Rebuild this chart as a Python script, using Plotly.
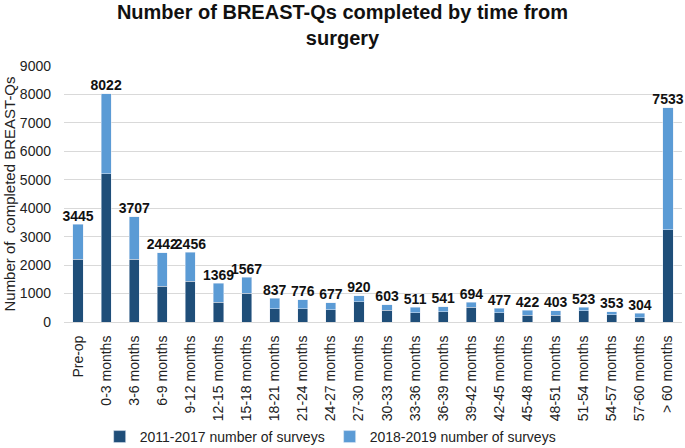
import plotly.graph_objects as go

categories = ["Pre-op", "0-3 months", "3-6 months", "6-9 months", "9-12 months",
              "12-15 months", "15-18 months", "18-21 months", "21-24 months",
              "24-27 months", "27-30 months", "30-33 months", "33-36 months",
              "36-39 months", "39-42 months", "42-45 months", "45-48 months",
              "48-51 months", "51-54 months", "54-57 months", "57-60 months",
              "> 60 months"]
totals = [3445, 8022, 3707, 2442, 2456, 1369, 1567, 837, 776, 677, 920, 603,
          511, 541, 694, 477, 422, 403, 523, 353, 304, 7533]
surveys_2011_2017 = [2200, 5210, 2200, 1260, 1430, 700, 1010, 470, 470, 435, 705,
                     410, 330, 365, 518, 318, 235, 235, 390, 247, 153, 3250]
surveys_2018_2019 = [t - d for t, d in zip(totals, surveys_2011_2017)]

fig = go.Figure()
fig.add_trace(go.Bar(x=categories, y=surveys_2011_2017, name="2011-2017 number of surveys",
                     marker_color="#1F4E79"))
fig.add_trace(go.Bar(x=categories, y=surveys_2018_2019, name="2018-2019 number of surveys",
                     marker_color="#5B9BD5"))
fig.add_trace(go.Scatter(x=categories, y=totals, mode="text", text=[str(t) for t in totals],
                         textposition="top center", showlegend=False, hoverinfo="skip",
                         cliponaxis=False,
                         textfont=dict(family="Liberation Sans, Arial", size=14, color="#111111",
                                       weight="bold")))

fig.update_layout(
    width=685, height=448,
    barmode="stack", bargap=0.64,
    plot_bgcolor="white", paper_bgcolor="white",
    margin=dict(l=64, r=3, t=66, b=126, autoexpand=False),
    font=dict(family="Liberation Sans, Arial", color="#222222"),
    title=dict(text="<b>Number of BREAST-Qs completed by time from<br>surgery</b>",
               x=0.5, xanchor="center", y=0.957, yanchor="top",
               font=dict(size=20, color="#111111")),
    legend=dict(orientation="h", xref="container", x=0.482, xanchor="center",
                yref="container", y=0.0246, yanchor="middle",
                font=dict(size=14), itemwidth=30, traceorder="normal"),
    xaxis=dict(tickangle=-90, tickfont=dict(size=14), showgrid=False, automargin=False,
               range=[-0.5, len(categories) - 0.5],
               showline=True, linecolor="#d9d9d9", ticks="", ticklabelstandoff=7),
    yaxis=dict(range=[0, 9000], dtick=1000, gridcolor="#d9d9d9", zeroline=False,
               automargin=False,
               tickfont=dict(size=14), ticks="", ticklabelstandoff=12,
               title=dict(text="\u00a0" * 5 + "Number of  completed BREAST-Qs",
                          font=dict(size=15), standoff=0)),
)

fig.write_html("out.html", post_script="document.body.style.margin='0';",
               config={"displayModeBar": False})
